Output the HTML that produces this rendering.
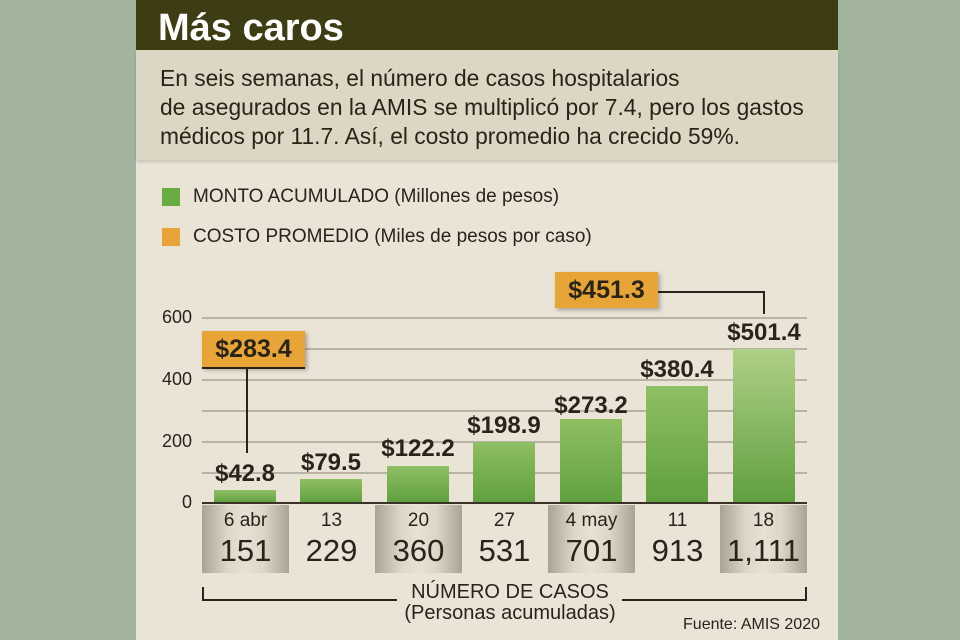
<!DOCTYPE html>
<html><head><meta charset="utf-8"><style>
body{margin:0;width:960px;height:640px;background:#a3b49e;position:relative;overflow:hidden;font-family:"Liberation Sans",sans-serif;}
.a{position:absolute}
#panel{left:136px;top:0;width:702px;height:640px;background:#e9e4d6}
#title{left:136px;top:0;width:702px;height:50px;background:#3e3c12;color:#fff;font-weight:bold;font-size:38px;line-height:56px;text-indent:22px}
#sub{left:136px;top:50px;width:702px;height:110px;background:#dcd6c4;color:#2a2418;font-size:22.8px;line-height:29px;padding:14px 0 0 24px;box-sizing:border-box;box-shadow:0 2px 3px rgba(0,0,0,.15)}
.t{color:#2a2418}
.grid{left:202px;width:605px;height:2px;background:#b9b3a6}
.bar{background:linear-gradient(#8fbf63,#5fa03e);width:62px}
.box{top:505px;height:68px;width:87px}
.g{background:linear-gradient(90deg,#a8a393,#dcd7c7 30%,#e6e1d3 50%,#dcd7c7 70%,#a8a393)}
.d{font-size:19px;text-align:center;width:87px;top:510px}
.n{font-size:31px;text-align:center;width:87px;top:533px}
.v{font-size:24px;font-weight:bold;text-align:center;width:120px}
.y{font-size:18px;text-align:right;width:40px;left:152px}
.call{background:#e8a537;font-weight:bold;font-size:25px;text-align:center;line-height:37px;box-shadow:2px 2px 4px rgba(0,0,0,.3)}
</style></head><body>
<div class="a" id="panel"></div>
<div class="a" id="title">Más caros</div>
<div class="a" id="sub">En seis semanas, el número de casos hospitalarios<br>de asegurados en la AMIS se multiplicó por 7.4, pero los gastos<br>médicos por 11.7. Así, el costo promedio ha crecido 59%.</div>
<div class="a" style="left:162px;top:188px;width:18px;height:18px;background:#6aac44"></div>
<div class="a t" style="left:193px;top:186px;font-size:19px">MONTO ACUMULADO (Millones de pesos)</div>
<div class="a" style="left:162px;top:228px;width:18px;height:18px;background:#e8a537"></div>
<div class="a t" style="left:193px;top:226px;font-size:19px">COSTO PROMEDIO (Miles de pesos por caso)</div>

<div class="a grid" style="top:317px"></div><div class="a grid" style="top:348px"></div>
<div class="a grid" style="top:379px"></div><div class="a grid" style="top:410px"></div>
<div class="a grid" style="top:441px"></div><div class="a grid" style="top:472px"></div>
<div class="a y t" style="top:307px">600</div><div class="a y t" style="top:369px">400</div>
<div class="a y t" style="top:431px">200</div><div class="a y t" style="top:492px">0</div>

<div class="a box g" style="left:202px"></div><div class="a box g" style="left:375px"></div>
<div class="a box g" style="left:548px"></div><div class="a box g" style="left:720px"></div>

<div class="a bar" style="left:214px;top:490px;height:13px"></div>
<div class="a bar" style="left:300px;top:479px;height:24px"></div>
<div class="a bar" style="left:387px;top:466px;height:37px"></div>
<div class="a bar" style="left:473px;top:442px;height:61px"></div>
<div class="a bar" style="left:560px;top:419px;height:84px"></div>
<div class="a bar" style="left:646px;top:386px;height:117px"></div>
<div class="a bar" style="left:733px;top:349px;height:154px;background:linear-gradient(#b0cf88,#5fa03e)"></div>
<div class="a" style="left:202px;top:502px;width:605px;height:2px;background:#3a3226"></div>

<div class="a v t" style="left:185px;top:460px">$42.8</div>
<div class="a v t" style="left:271px;top:449px">$79.5</div>
<div class="a v t" style="left:358px;top:435px">$122.2</div>
<div class="a v t" style="left:444px;top:412px">$198.9</div>
<div class="a v t" style="left:531px;top:392px">$273.2</div>
<div class="a v t" style="left:617px;top:356px">$380.4</div>
<div class="a v t" style="left:704px;top:319px">$501.4</div>

<div class="a d t" style="left:202px">6 abr</div><div class="a d t" style="left:288px">13</div>
<div class="a d t" style="left:375px">20</div><div class="a d t" style="left:461px">27</div>
<div class="a d t" style="left:548px">4 may</div><div class="a d t" style="left:634px">11</div>
<div class="a d t" style="left:720px">18</div>
<div class="a n t" style="left:202px">151</div><div class="a n t" style="left:288px">229</div>
<div class="a n t" style="left:375px">360</div><div class="a n t" style="left:461px">531</div>
<div class="a n t" style="left:548px">701</div><div class="a n t" style="left:634px">913</div>
<div class="a n t" style="left:720px">1,111</div>

<div class="a call t" style="left:202px;top:331px;width:103px;height:37px">$283.4</div>
<div class="a" style="left:202px;top:367px;width:103px;height:2px;background:#2a2418"></div>
<div class="a" style="left:246px;top:368px;width:2px;height:85px;background:#2a2418"></div>
<div class="a call t" style="left:555px;top:272px;width:103px;height:36px">$451.3</div>
<div class="a" style="left:658px;top:291px;width:107px;height:2px;background:#2a2418"></div>
<div class="a" style="left:763px;top:291px;width:2px;height:23px;background:#2a2418"></div>

<div class="a" style="left:202px;top:587px;width:2px;height:14px;background:#2a2418"></div>
<div class="a" style="left:805px;top:587px;width:2px;height:14px;background:#2a2418"></div>
<div class="a" style="left:202px;top:599px;width:195px;height:2px;background:#2a2418"></div>
<div class="a" style="left:622px;top:599px;width:185px;height:2px;background:#2a2418"></div>
<div class="a t" style="left:385px;top:581px;width:250px;text-align:center;font-size:20px">NÚMERO DE CASOS</div>
<div class="a t" style="left:385px;top:602px;width:250px;text-align:center;font-size:20px">(Personas acumuladas)</div>
<div class="a t" style="left:670px;top:616px;width:150px;text-align:right;font-size:16px">Fuente: AMIS 2020</div>
</body></html>
